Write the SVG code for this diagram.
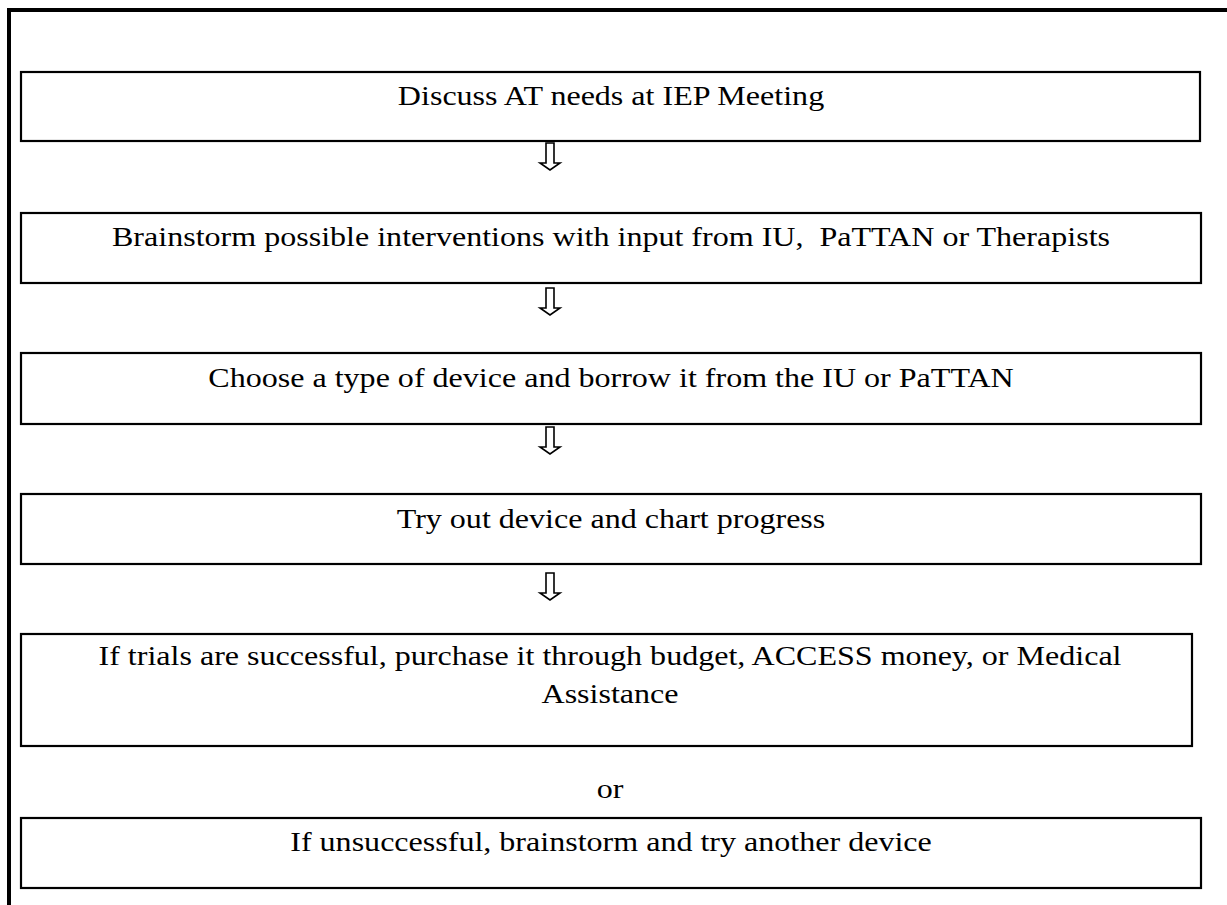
<svg xmlns="http://www.w3.org/2000/svg" width="1227" height="905" viewBox="0 0 1227 905">
<defs>
<style>
.box{fill:#fff;stroke:#000;stroke-width:2.2}
.t{font-family:"Liberation Serif","Times New Roman",serif;font-size:27px;fill:#000;text-anchor:middle;white-space:pre}
.arr{fill:#fff;stroke:#000;stroke-width:1.6;stroke-linejoin:miter}
.frame{stroke:#000;stroke-width:4;fill:none}
</style>
<path id="arrow" class="arr" d="M546,0 L554,0 L554,20 L560,20 L550,27 L540,20 L546,20 Z"/>
</defs>
<rect width="1227" height="905" fill="#fff"/>
<g id="frame">
<path class="frame" d="M9,905 L9,10 L1227,10"/>
</g>
<g id="connectors">
<use href="#arrow" y="143"/>
<use href="#arrow" y="288"/>
<use href="#arrow" y="427"/>
<use href="#arrow" y="573"/>
</g>
<g id="n1">
<rect class="box" x="21" y="72" width="1179" height="69"/>
<text class="t" transform="translate(611,105) scale(1.187,1)" xml:space="preserve">Discuss AT needs at IEP Meeting</text>
</g>
<g id="n2">
<rect class="box" x="21" y="213" width="1180" height="70"/>
<text class="t" transform="translate(611,246) scale(1.187,1)" xml:space="preserve">Brainstorm possible interventions with input from IU,  PaTTAN or Therapists</text>
</g>
<g id="n3">
<rect class="box" x="21" y="353" width="1180" height="71"/>
<text class="t" transform="translate(611,387) scale(1.187,1)" xml:space="preserve">Choose a type of device and borrow it from the IU or PaTTAN</text>
</g>
<g id="n4">
<rect class="box" x="21" y="494" width="1180" height="70"/>
<text class="t" transform="translate(611,528) scale(1.187,1)" xml:space="preserve">Try out device and chart progress</text>
</g>
<g id="n5">
<rect class="box" x="21" y="634" width="1171" height="112"/>
<text class="t" transform="translate(610,665) scale(1.187,1)" xml:space="preserve">If trials are successful, purchase it through budget, ACCESS money, or Medical</text>
<text class="t" transform="translate(610,703) scale(1.187,1)" xml:space="preserve">Assistance</text>
</g>
<g id="or">
<text class="t" transform="translate(610,798) scale(1.187,1)" xml:space="preserve">or</text>
</g>
<g id="n6">
<rect class="box" x="21" y="818" width="1180" height="70"/>
<text class="t" transform="translate(611,851) scale(1.187,1)" xml:space="preserve">If unsuccessful, brainstorm and try another device</text>
</g>
</svg>
